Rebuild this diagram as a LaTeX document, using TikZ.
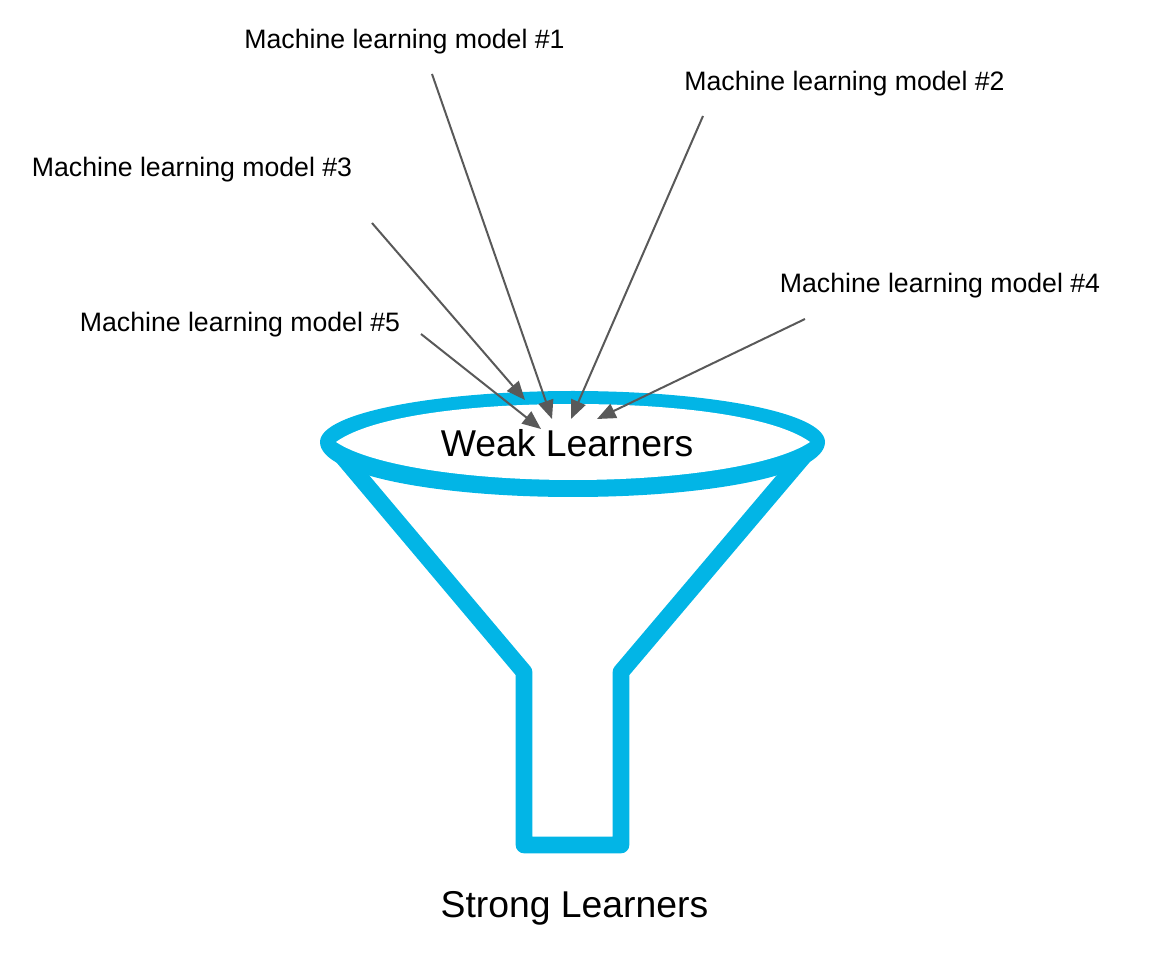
\documentclass[tikz,border=0pt]{standalone}
\usepackage{fontspec}
\setmainfont{Liberation Sans}
\usetikzlibrary{arrows.meta}
\definecolor{funnelblue}{HTML}{02B5E6}
\definecolor{arrowgray}{HTML}{595959}
\tikzset{
 px/.style={x=0.75pt,y=-0.75pt},
 funnelline/.style={draw=funnelblue,line width=12.5pt,line join=round,line cap=round},
 modelarrow/.style={draw=arrowgray,line width=1.5pt,-{Triangle[length=14pt,width=11.5pt]}},
 modellabel/.style={font=\fontsize{20pt}{22pt}\selectfont,inner sep=0pt,anchor=center},
 biglabel/.style={font=\fontsize{28pt}{30pt}\selectfont,inner sep=0pt,anchor=center}
}
\begin{document}
\begin{tikzpicture}[px]
\useasboundingbox (0,0) rectangle (1158,962);
\path[funnelline] (331,443) -- (524,672) -- (524,845) -- (621,845) -- (621,672) -- (815,443);
\fill[funnelblue] (320,442) .. controls (320,412) and (440,391) .. (573,391)
  .. controls (706,391) and (825,412) .. (825,442)
  .. controls (825,476) and (706,497) .. (573,497)
  .. controls (440,497) and (320,476) .. (320,442) -- cycle;
\fill[white] (336,442) .. controls (372,416) and (470,404) .. (573,404)
  .. controls (676,404) and (774,416) .. (810,442)
  .. controls (774,466) and (676,480) .. (573,480)
  .. controls (470,480) and (372,466) .. (336,442) -- cycle;
\node[biglabel] (weak) at (567,443) {Weak Learners};
\node[biglabel] (strong) at (574.5,908) {Strong Learners};
\node[modellabel] (m1) at (404.5,41.5) {Machine learning model \#1};
\node[modellabel] (m2) at (844.5,83.5) {Machine learning model \#2};
\node[modellabel] (m3) at (192,169.5) {Machine learning model \#3};
\node[modellabel] (m4) at (940,285.5) {Machine learning model \#4};
\node[modellabel] (m5) at (240,324.5) {Machine learning model \#5};
\coordinate (s1) at (432,74); \coordinate (e1) at (552,419);
\coordinate (s2) at (703,116); \coordinate (e2) at (571,419);
\coordinate (s3) at (372,223); \coordinate (e3) at (525,400);
\coordinate (s4) at (805,319); \coordinate (e4) at (597,419);
\coordinate (s5) at (421,334); \coordinate (e5) at (541,429);
\draw[modelarrow] (s1) -- (e1);
\draw[modelarrow] (s2) -- (e2);
\draw[modelarrow] (s3) -- (e3);
\draw[modelarrow] (s4) -- (e4);
\draw[modelarrow] (s5) -- (e5);
\end{tikzpicture}
\end{document}
